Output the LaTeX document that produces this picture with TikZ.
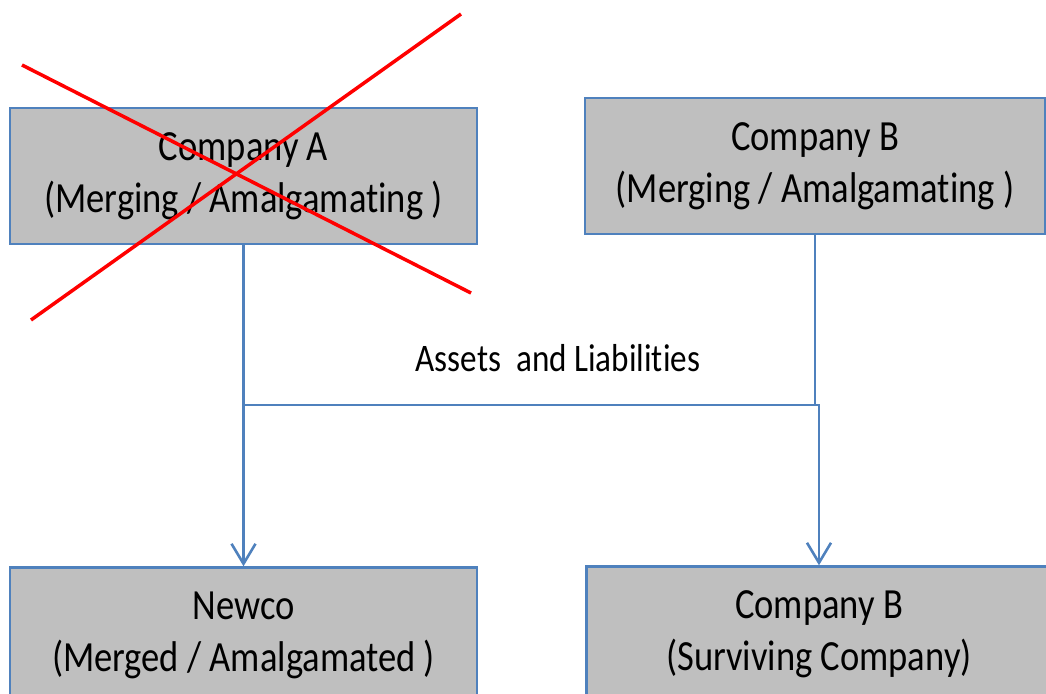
\documentclass[tikz,border=0pt]{standalone}
\usepackage{fontspec}
\setmainfont{Carlito}[FakeStretch=0.85, RawFeature=-liga]
\usetikzlibrary{positioning,arrows.meta}
\definecolor{officeblue}{RGB}{79,129,189}
\definecolor{boxgray}{RGB}{191,191,191}

\begin{document}
\begin{tikzpicture}[x=1pt, y=-1pt,
    box/.style={rectangle, draw=officeblue, fill=boxgray, line width=2.6pt, align=center,
        minimum height=136pt, inner sep=0pt, font=\fontsize{43}{52}\selectfont},
    flow/.style={draw=officeblue, line width=2.6pt, -{Straight Barb[length=20pt,width=24pt]}},
    cross/.style={red, line width=3.5pt}
]
    \useasboundingbox (0,0) rectangle (1046,693);

    \node[box, minimum width=467pt] (compA) at (243.5,176) {Company A\\(Merging / Amalgamating )};
    \node[box, minimum width=460pt] (compB) at (815,166) {Company B\\(Merging / Amalgamating )};
    \node[box, minimum width=467pt, below=321pt of compA] (newco) {Newco\\(Merged / Amalgamated )};
    \node[box, minimum width=465pt, below=330pt of compB, xshift=4pt] (survivor) {Company B\\(Surviving Company)};

    \coordinate (hub) at (530,405);
    \draw[flow] (compA.south) |- (hub) -| (survivor.north);
    \draw[flow] (compB.south) |- (hub) -| (newco.north);

    \node[font=\fontsize{39}{46}\selectfont] (assets) at (558,358) {Assets\ \ and Liabilities};

    % crossed out
    \draw[cross] (22,65) -- (471,293);
    \draw[cross] (31,320) -- (461,14);
\end{tikzpicture}
\end{document}
